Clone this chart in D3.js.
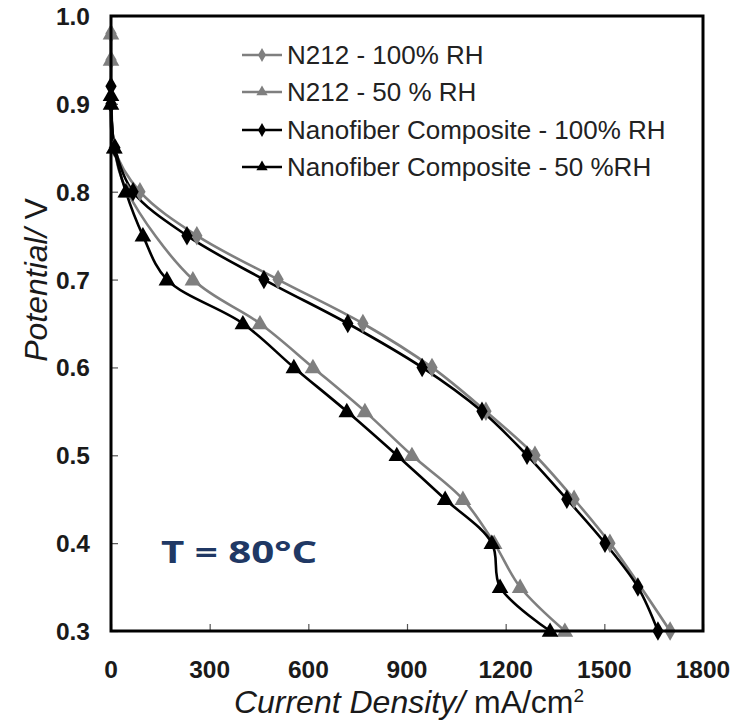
<!DOCTYPE html>
<html>
<head>
<meta charset="utf-8">
<script src="https://cdn.jsdelivr.net/npm/d3@7"></script>
<style>
  html, body { margin: 0; padding: 0; background: #fff; }
  svg { display: block; }
</style>
</head>
<body>
<svg id="chart" width="744" height="721"></svg>
<script>
// Polarization curves at 80 °C: current density (mA/cm²) vs cell potential (V)
const seriesNames = [
  "N212 - 100% RH",
  "N212 - 50 % RH",
  "Nanofiber Composite - 100% RH",
  "Nanofiber Composite - 50 %RH"
];
const n212_100_current = [0, 0, 10, 88, 261, 508, 766, 976, 1140, 1289, 1408, 1517, 1700];
const n212_100_volt    = [0.98, 0.95, 0.85, 0.80, 0.75, 0.70, 0.65, 0.60, 0.55, 0.50, 0.45, 0.40, 0.30];
const n212_50_current  = [0, 0, 10, 50, 249, 453, 614, 772, 915, 1070, 1165, 1244, 1380];
const n212_50_volt     = [0.98, 0.95, 0.85, 0.80, 0.70, 0.65, 0.60, 0.55, 0.50, 0.45, 0.40, 0.35, 0.30];
const nano_100_current = [0, 0, 12, 67, 231, 465, 720, 946, 1128, 1265, 1386, 1502, 1602, 1663];
const nano_100_volt    = [0.92, 0.90, 0.85, 0.80, 0.75, 0.70, 0.65, 0.60, 0.55, 0.50, 0.45, 0.40, 0.35, 0.30];
const nano_50_current  = [0, 0, 10, 45, 97, 170, 401, 556, 717, 869, 1016, 1158, 1183, 1335];
const nano_50_volt     = [0.91, 0.90, 0.85, 0.80, 0.75, 0.70, 0.65, 0.60, 0.55, 0.50, 0.45, 0.40, 0.35, 0.30];
const xTicks = [0, 300, 600, 900, 1200, 1500, 1800];
const yTicks = [0.3, 0.4, 0.5, 0.6, 0.7, 0.8, 0.9, 1.0];

const zip = (xs, ys) => xs.map((x, i) => ({ x, y: ys[i] }));
const series = [
  { name: seriesNames[0], pts: zip(n212_100_current, n212_100_volt), color: "#7f7f7f", shape: "diamond" },
  { name: seriesNames[1], pts: zip(n212_50_current, n212_50_volt),   color: "#7f7f7f", shape: "triangle" },
  { name: seriesNames[2], pts: zip(nano_100_current, nano_100_volt), color: "#000000", shape: "diamond" },
  { name: seriesNames[3], pts: zip(nano_50_current, nano_50_volt),   color: "#000000", shape: "triangle" }
];

const svg = d3.select("#chart");
const plot = { left: 111, right: 703, top: 16, bottom: 631 };

const x = d3.scaleLinear().domain([0, 1800]).range([plot.left, plot.right]);
const y = d3.scaleLinear().domain([0.3, 1.0]).range([plot.bottom, plot.top]);

const font = "'Liberation Sans', Arial, sans-serif";
const ink = "#1a1a1a";

// inward ticks
svg.append("g")
  .attr("transform", `translate(0,${plot.bottom})`)
  .call(d3.axisTop(x).tickValues(xTicks).tickSize(7).tickFormat(""))
  .call(g => g.select(".domain").remove())
  .call(g => g.selectAll("line").attr("stroke", "#555").attr("stroke-width", 1.2));
svg.append("g")
  .attr("transform", `translate(${plot.left},0)`)
  .call(d3.axisRight(y).tickValues(yTicks).tickSize(7).tickFormat(""))
  .call(g => g.select(".domain").remove())
  .call(g => g.selectAll("line").attr("stroke", "#555").attr("stroke-width", 1.2));

// tick labels
svg.append("g").selectAll("text").data(xTicks).join("text")
  .attr("x", d => x(d)).attr("y", 678)
  .attr("text-anchor", "middle")
  .attr("font-family", font).attr("font-weight", "bold").attr("font-size", 24.5)
  .attr("fill", ink)
  .text(d => d);
svg.append("g").selectAll("text").data(yTicks).join("text")
  .attr("x", 90).attr("y", d => y(d) + 9)
  .attr("text-anchor", "end")
  .attr("font-family", font).attr("font-weight", "bold").attr("font-size", 24.5)
  .attr("fill", ink)
  .text(d => d.toFixed(1));

// axis titles
const xt = svg.append("text")
  .attr("x", 409).attr("y", 713)
  .attr("text-anchor", "middle")
  .attr("font-family", font).attr("font-size", 32).attr("fill", ink);
xt.append("tspan").attr("font-style", "italic").text("Current Density/ ");
xt.append("tspan").text("mA/cm");
xt.append("tspan").attr("font-size", 19).attr("dy", -11).text("2");

const yt = svg.append("text")
  .attr("transform", "translate(47,280) rotate(-90)")
  .attr("text-anchor", "middle")
  .attr("font-family", font).attr("font-size", 32).attr("fill", ink);
yt.append("tspan").attr("font-style", "italic").text("Potential/ ");
yt.append("tspan").text("V");

// curves
const line = d3.line().x(d => x(d.x)).y(d => y(d.y)).curve(d3.curveCatmullRom.alpha(0.5));
const symbolFor = (shape, size) =>
  d3.symbol().type(shape === "diamond" ? d3.symbolDiamond : d3.symbolTriangle).size(size)();

const drawOrder = [1, 0, 3, 2];
drawOrder.forEach(i => {
  const s = series[i];
  svg.append("path")
    .attr("d", line(s.pts))
    .attr("fill", "none")
    .attr("stroke", s.color)
    .attr("stroke-width", 2.6);
});
drawOrder.forEach(i => {
  const s = series[i];
  svg.append("g").selectAll("path").data(s.pts).join("path")
    .attr("transform", d => `translate(${x(d.x)},${y(d.y) + (s.shape === "triangle" ? 1 : 0)})`)
    .attr("d", symbolFor(s.shape, s.shape === "diamond" ? 110 : 120))
    .attr("fill", s.color);
});

// frame
svg.append("rect")
  .attr("x", plot.left).attr("y", plot.top)
  .attr("width", plot.right - plot.left).attr("height", plot.bottom - plot.top)
  .attr("fill", "none").attr("stroke", "#000").attr("stroke-width", 3);

// legend
const legendRows = [55, 92, 130, 167];
const lg = svg.append("g");
series.forEach((s, i) => {
  const row = lg.append("g").attr("transform", `translate(0,${legendRows[i]})`);
  row.append("line").attr("x1", 242).attr("x2", 282).attr("y1", 0).attr("y2", 0)
    .attr("stroke", s.color).attr("stroke-width", 2.6);
  row.append("path").attr("transform", "translate(262,0)")
    .attr("d", symbolFor(s.shape, 55)).attr("fill", s.color);
  row.append("text").attr("x", 287).attr("y", 9)
    .attr("font-family", font).attr("font-size", 26).attr("fill", "#222")
    .text(s.name);
});

// temperature annotation
svg.append("text")
  .attr("transform", "translate(161,563) scale(1.3,1)")
  .attr("font-family", "'Open Sans', sans-serif").attr("font-weight", "bold").attr("font-size", 31)
  .attr("fill", "#203864")
  .text("T = 80°C");
</script>
</body>
</html>
